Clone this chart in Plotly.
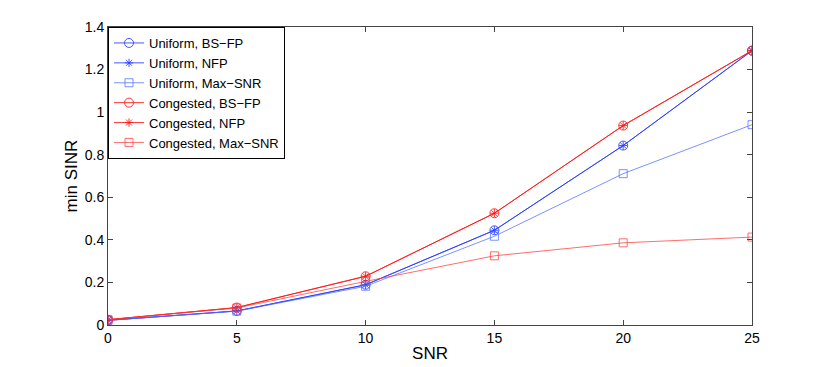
import plotly.graph_objects as go

snr = [0, 5, 10, 15, 20, 25]
uni_bsfp = [0.022, 0.066, 0.189, 0.445, 0.843, 1.289]
uni_nfp = [0.022, 0.066, 0.189, 0.445, 0.843, 1.289]
uni_maxsnr = [0.022, 0.065, 0.182, 0.417, 0.711, 0.941]
con_bsfp = [0.025, 0.082, 0.229, 0.525, 0.937, 1.289]
con_nfp = [0.025, 0.082, 0.229, 0.525, 0.937, 1.289]
con_maxsnr = [0.025, 0.080, 0.205, 0.325, 0.386, 0.413]

names = ["Uniform, BS\u2212FP", "Uniform, NFP", "Uniform, Max\u2212SNR",
         "Congested, BS\u2212FP", "Congested, NFP", "Congested, Max\u2212SNR"]
series = [uni_bsfp, uni_nfp, uni_maxsnr, con_bsfp, con_nfp, con_maxsnr]
colors = ["rgba(40,60,255,0.85)", "rgba(40,60,255,0.85)", "rgba(80,110,255,0.75)",
          "rgba(255,20,20,0.85)", "rgba(255,20,20,0.85)", "rgba(255,60,60,0.75)"]
symbols = ["circle-open", "asterisk-open", "square-open",
           "circle-open", "asterisk-open", "square-open"]
sizes = [9, 7, 8, 9, 7, 8]

fig = go.Figure()
for n, s, c, m, sz in zip(names, series, colors, symbols, sizes):
    fig.add_trace(go.Scatter(x=snr, y=s, name=n, mode="lines+markers",
                             line=dict(color=c, width=1),
                             marker=dict(symbol=m, size=sz, color=c,
                                         line=dict(color=c, width=1))))

fig.update_layout(
    width=822, height=359,
    margin=dict(l=100, r=78, t=19, b=42),
    paper_bgcolor="white", plot_bgcolor="white",
    font=dict(family="Liberation Sans, Arial, sans-serif", size=14, color="black"),
    showlegend=True,
    legend=dict(x=0, y=1, xanchor="left", yanchor="top",
                bordercolor="black", borderwidth=1, bgcolor="white",
                font=dict(size=13),
                tracegroupgap=0, itemwidth=30),
    xaxis=dict(title=dict(text="SNR", standoff=2), range=[0, 25], automargin=False,
               tickvals=[0, 5, 10, 15, 20, 25], ticks="inside", ticklen=5,
               showline=True, linecolor="#444", linewidth=1, mirror="ticks",
               showgrid=False, zeroline=False),
    yaxis=dict(title=dict(text="min SINR", standoff=2), range=[0, 1.4], automargin=False,
               tickvals=[0, 0.2, 0.4, 0.6, 0.8, 1, 1.2, 1.4],
               ticktext=["0", "0.2", "0.4", "0.6", "0.8", "1", "1.2", "1.4"],
               ticks="inside", ticklen=5,
               showline=True, linecolor="#444", linewidth=1, mirror="ticks",
               showgrid=False, zeroline=False),
)

fig.write_html("out.html")
